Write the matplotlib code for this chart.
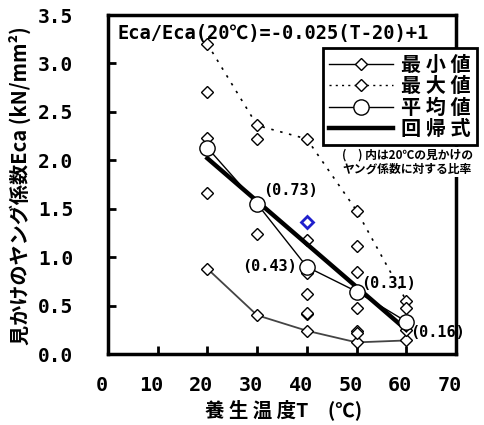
import matplotlib
matplotlib.use("Agg")
import matplotlib.pyplot as plt
import matplotlib.transforms as mtransforms
from matplotlib.lines import Line2D

# ---- data ----
T = [20, 30, 40, 50, 60]
E_min = [0.88, 0.40, 0.24, 0.12, 0.14]
E_max = [3.20, 2.36, 2.22, 1.48, 0.55]
E_avg = [2.13, 1.55, 0.90, 0.645, 0.335]
reg_T = [20, 60]
reg_E = [2.02, 0.25]
scatter_T = [20, 20, 20, 30, 30, 40, 40, 40, 40, 40, 50, 50, 50, 50, 50, 60, 60]
scatter_E = [2.70, 2.23, 1.66, 2.22, 1.24, 1.18, 0.84, 0.62, 0.41, 0.42,
             1.115, 0.85, 0.48, 0.24, 0.22, 0.47, 0.25]
blue_T = [40]
blue_E = [1.365]
ratio_labels = ["(0.73)", "(0.43)", "(0.31)", "(0.16)"]
ratio_T = [31.2, 38.0, 50.9, 60.8]
ratio_E = [1.69, 0.90, 0.73, 0.22]
ratio_ha = ["left", "right", "left", "left"]
xticks = [0, 10, 20, 30, 40, 50, 60, 70]
yticks = [0.0, 0.5, 1.0, 1.5, 2.0, 2.5, 3.0, 3.5]

MONO = ["DejaVu Sans Mono", "Noto Sans CJK JP"]
CJK = ["Noto Sans CJK JP", "DejaVu Sans"]

fig = plt.figure(figsize=(4.84, 4.25), dpi=100)
ax = fig.add_axes([108 / 484, 71 / 425, 348 / 484, 339 / 425])
ax.set_xlim(0, 70)
ax.set_ylim(0, 3.5)

for s in ax.spines.values():
    s.set_linewidth(2.5)

ax.tick_params(direction="in", length=6, width=2, pad=0)
ax.set_xticks(xticks)
ax.set_yticks(yticks)
ax.set_xticklabels([str(v) for v in xticks], fontfamily=MONO, fontsize=14.5, fontweight="bold")
ax.set_yticklabels(["%.1f" % v for v in yticks], fontfamily=MONO, fontsize=14, fontweight="bold")
ax.tick_params(axis="x", pad=16)
ax.tick_params(axis="y", pad=25)
offset = mtransforms.ScaledTranslation(-6 / 100, 0, fig.dpi_scale_trans)
for lab in ax.get_xticklabels():
    lab.set_transform(lab.get_transform() + offset)

# lines
ax.plot(T, E_min, color="#444444", lw=1.3, marker="D", ms=6.5, mfc="white", mec="black", mew=1.0, zorder=3)
ax.plot(T, E_max, color="black", lw=1.2, ls=(0, (1.5, 4)), marker="D", ms=6.5, mfc="white", mec="black", mew=1.0, zorder=3)
ax.plot(reg_T, reg_E, color="black", lw=3.2, zorder=4)
ax.plot(T, E_avg, color="black", lw=1.0, marker="o", ms=11, mfc="white", mec="black", mew=1.0, zorder=5)
ax.plot(scatter_T, scatter_E, ls="none", marker="D", ms=6.5, mfc="white", mec="black", mew=1.0, zorder=3)
ax.plot(blue_T, blue_E, ls="none", marker="D", ms=6.5, mfc="white", mec="#1f1fcc", mew=2.0, zorder=3)

for lab, x, y, ha in zip(ratio_labels, ratio_T, ratio_E, ratio_ha):
    ax.text(x, y, lab, ha=ha, va="center", fontsize=11, fontweight="bold", fontfamily=MONO, zorder=6)

ax.text(0.028, 0.945, "Eca/Eca(20℃)=-0.025(T-20)+1", transform=ax.transAxes,
        ha="left", va="center", fontsize=13.5, fontweight="bold", fontfamily=MONO)

# legend
handles = [
    Line2D([], [], color="black", lw=1.0, marker="D", ms=6, mfc="white", mec="black"),
    Line2D([], [], color="black", lw=1.0, ls=(0, (1.5, 3)), marker="D", ms=6, mfc="white", mec="black"),
    Line2D([], [], color="black", lw=1.0, marker="o", ms=11, mfc="white", mec="black"),
    Line2D([], [], color="black", lw=3.2),
]
labels = ["最 小 値", "最 大 値", "平 均 値", "回 帰 式"]
leg = fig.legend(handles, labels, loc="upper right", bbox_to_anchor=(477 / 484, 1 - 48 / 425),
                 frameon=True, fancybox=False, edgecolor="black", framealpha=1,
                 prop={"family": CJK, "weight": "bold", "size": 14.5},
                 handlelength=3.2, handletextpad=0.4, labelspacing=0.02,
                 borderpad=0.3, borderaxespad=0)
leg.get_frame().set_linewidth(2.0)
leg.set_zorder(10)

fig.text(407 / 484, 1 - 162 / 425, "(　) 内は20℃の見かけの\nヤング係数に対する比率",
         ha="center", va="center", fontsize=8.5, fontweight="bold", fontfamily=CJK,
         linespacing=1.15, zorder=10,
         bbox=dict(facecolor="white", edgecolor="none", pad=1))

fig.text(20 / 484, 1 - 186 / 425, "見かけのヤング係数Eca (kN/mm²)", rotation=90,
         ha="center", va="center", fontsize=14.5, fontweight="bold", fontfamily=CJK)
fig.text(284 / 484, 1 - 410 / 425, "養 生 温 度T　(℃)",
         ha="center", va="center", fontsize=14, fontweight="bold", fontfamily=CJK)

fig.savefig("out.png", dpi=100)
